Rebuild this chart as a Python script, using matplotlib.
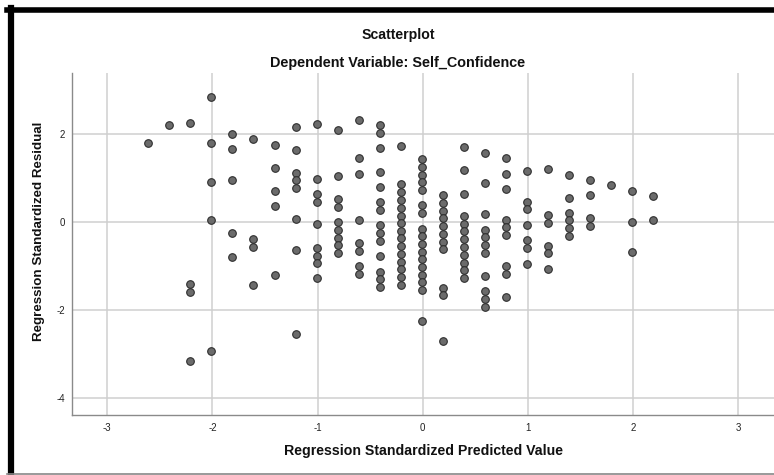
import matplotlib
matplotlib.use("Agg")
import matplotlib.pyplot as plt
from matplotlib.lines import Line2D

# ---- data: standardized predicted value levels and residuals in each column ----
pred_levels = [-2.61, -2.41, -2.21, -2.01, -1.81, -1.61, -1.41, -1.21, -1.01,
               -0.81, -0.61, -0.41, -0.21, -0.01, 0.19, 0.39, 0.59, 0.79,
               0.99, 1.19, 1.39, 1.59, 1.79, 1.99, 2.19]

residuals_by_level = [
    [1.81],
    [2.21],
    [2.26, -1.41, -1.58, -3.15],
    [2.84, 1.79, 0.92, 0.05, -2.92],
    [2.01, 1.67, 0.96, -0.25, -0.78],
    [1.89, -0.38, -0.56, -1.43],
    [1.76, 1.24, 0.72, 0.37, -1.20],
    [2.17, 1.64, 1.12, 0.95, 0.77, 0.07, -0.62, -2.55],
    [2.22, 0.99, 0.64, 0.47, -0.05, -0.58, -0.76, -0.93, -1.27],
    [2.10, 1.05, 0.52, 0.35, 0.00, -0.17, -0.35, -0.52, -0.70],
    [2.32, 1.45, 1.10, 0.05, -0.48, -0.65, -1.00, -1.17],
    [2.20, 2.02, 1.68, 1.15, 0.80, 0.46, 0.28, -0.07, -0.24, -0.42, -0.77,
     -1.12, -1.30, -1.47],
    [1.73, 0.86, 0.68, 0.51, 0.33, 0.15, -0.02, -0.20, -0.37, -0.55, -0.72,
     -0.90, -1.07, -1.24, -1.42],
    [1.43, 1.26, 1.08, 0.91, 0.73, 0.38, 0.20, -0.15, -0.32, -0.49, -0.67,
     -0.84, -1.02, -1.19, -1.36, -1.54, -2.24],
    [0.61, 0.44, 0.26, 0.09, -0.08, -0.27, -0.44, -0.61, -1.49, -1.66, -2.71],
    [1.70, 1.18, 0.65, 0.14, -0.04, -0.21, -0.39, -0.56, -0.74, -0.92, -1.09,
     -1.27],
    [1.58, 0.88, 0.18, -0.17, -0.34, -0.52, -0.69, -1.22, -1.56, -1.74, -1.92],
    [1.45, 1.10, 0.76, 0.05, -0.12, -0.30, -0.99, -1.17, -1.69],
    [1.16, 0.46, 0.29, -0.06, -0.41, -0.59, -0.94],
    [1.20, 0.16, -0.02, -0.54, -0.71, -1.06],
    [1.08, 0.56, 0.21, 0.04, -0.14, -0.31],
    [0.96, 0.61, 0.09, -0.08],
    [0.84],
    [0.71, 0.01, -0.68],
    [0.59, 0.06],
]

x_ticks = [-3, -2, -1, 0, 1, 2, 3]
y_ticks = [-4, -2, 0, 2]

title_main = "Scatterplot"
title_sub = "Dependent Variable: Self_Confidence"
x_label = "Regression Standardized Predicted Value"
y_label = "Regression Standardized Residual"

# ---- build point arrays ----
xs, ys = [], []
for lvl, res in zip(pred_levels, residuals_by_level):
    for r in res:
        xs.append(lvl)
        ys.append(r)

plt.rcParams['font.family'] = ['Liberation Sans', 'DejaVu Sans']

W, H = 774, 475
fig = plt.figure(figsize=(W / 100, H / 100), dpi=100)
fig.patch.set_facecolor("white")

left, right, top, bottom = 72, 774, 73, 415
ax = fig.add_axes([left / W, 1 - bottom / H, (right - left) / W, (bottom - top) / H])
ax.set_xlim(-3.336, 3.34)
ax.set_ylim(-4.38, 3.39)

ax.set_xticks(x_ticks)
ax.set_yticks(y_ticks)
ax.set_xticklabels([str(t) for t in x_ticks])
ax.set_yticklabels([str(t) for t in y_ticks])
ax.tick_params(axis='both', length=0, labelsize=7, colors='#222222', pad=6)
ax.tick_params(axis='y', pad=5)

ax.grid(True, color='#cfcfcf', linewidth=1.1)
ax.set_axisbelow(True)
for s in ['top', 'right']:
    ax.spines[s].set_visible(False)
for s in ['left', 'bottom']:
    ax.spines[s].set_color('#8a8a8a')
    ax.spines[s].set_linewidth(1.0)

ax.scatter(xs, ys, s=30, facecolor='#6b6b6b', edgecolor='#2e2e2e',
           linewidths=0.8, zorder=3)

# titles and labels
fig.text(398 / W, 1 - 35 / H, title_main, ha='center', va='center',
         fontsize=10.2, fontweight='bold', color='#111111')
fig.text(398 / W, 1 - 63 / H, title_sub, ha='center', va='center',
         fontsize=10.4, fontweight='bold', color='#111111')
fig.text(424 / W, 1 - 451 / H, x_label, ha='center', va='center',
         fontsize=10.2, fontweight='bold', color='#111111')
fig.text(39 / W, 1 - 231 / H, y_label, ha='center', va='center',
         rotation=90, fontsize=9.6, fontweight='bold', color='#111111')

# screenshot frame: thick black top and left, thin gray bottom
fig.add_artist(Line2D([7 / W, 1], [1 - 9.5 / H, 1 - 9.5 / H], color='black',
                      linewidth=4, transform=fig.transFigure))
fig.add_artist(Line2D([10.5 / W, 10.5 / W], [0, 1 - 7.5 / H], color='black',
                      linewidth=4.5, transform=fig.transFigure))
fig.add_artist(Line2D([7 / W, 1], [1 - 474 / H, 1 - 474 / H], color='#888888',
                      linewidth=1.2, transform=fig.transFigure))

fig.savefig("out.png", dpi=100, facecolor='white')
